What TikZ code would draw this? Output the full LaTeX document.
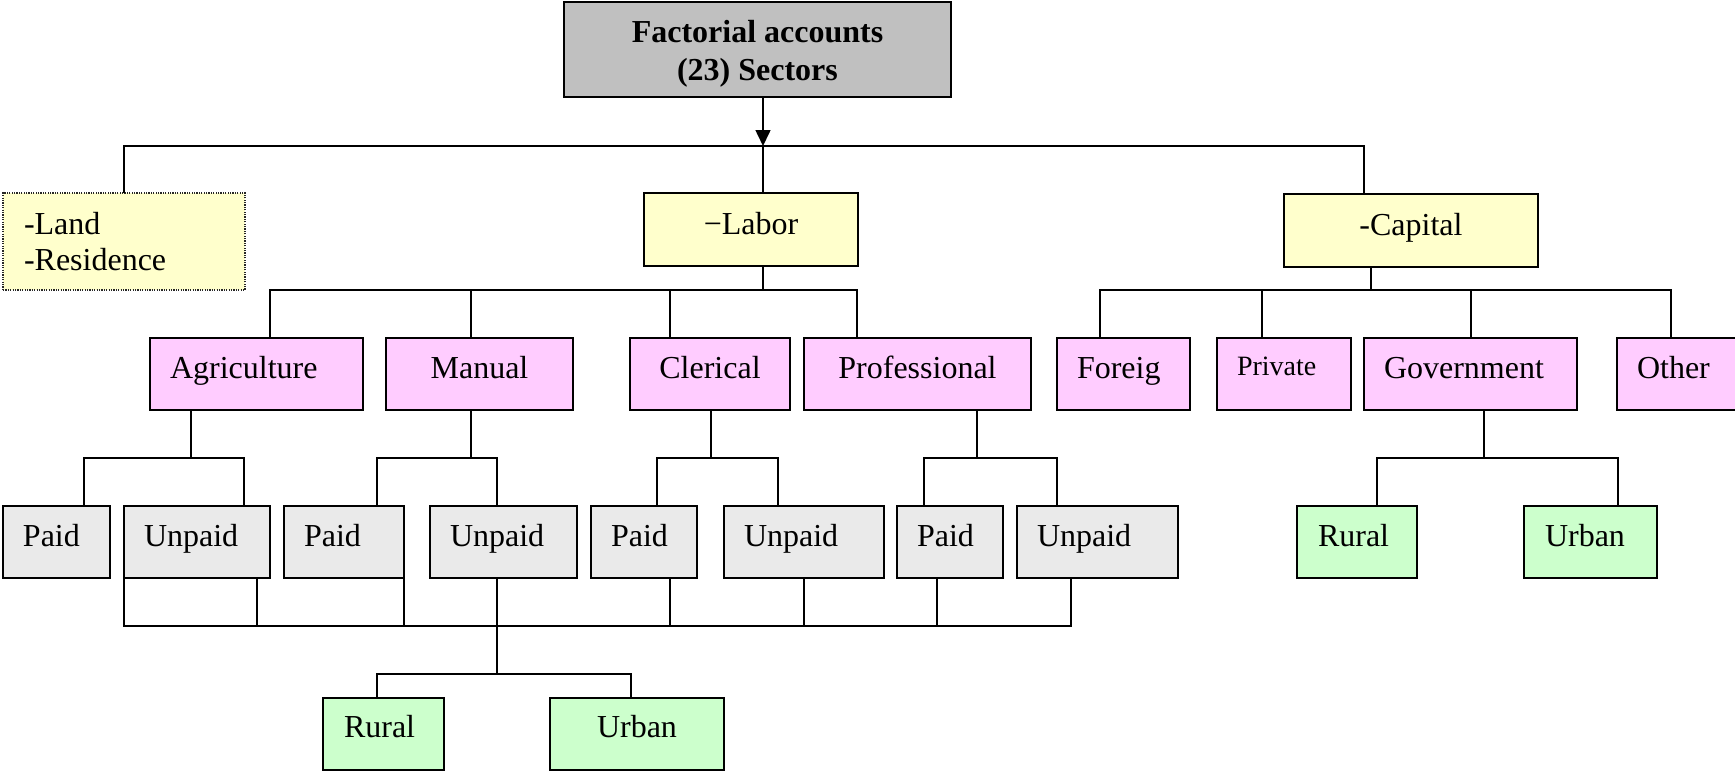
\documentclass[tikz,border=0pt]{standalone}
\usepackage{fontspec}
\setmainfont{Liberation Serif}
\usetikzlibrary{arrows.meta}
\definecolor{topgray}{HTML}{C0C0C0}
\definecolor{yel}{HTML}{FFFFCC}
\definecolor{pinkc}{HTML}{FFCCFF}
\definecolor{lgray}{HTML}{EAEAEA}
\definecolor{grn}{HTML}{CCFFCC}
\begin{document}
\begin{tikzpicture}[x=1pt,y=-1pt,
  every node/.style={font=\fontsize{32}{38}\selectfont},
  basebox/.style={draw=black, line width=2pt, inner sep=0pt, outer sep=0pt},
  box/.style={basebox, minimum height=72pt, text height=22pt, text depth=13pt},
  pbox/.style={box, fill=pinkc},
  gbox/.style={box, fill=lgray},
  grbox/.style={box, fill=grn},
  ybox/.style={box, fill=yel, minimum height=73pt},
  lt/.style={text width=#1, align=left},
  conn/.style={line width=1.6pt}
]
\clip (0,0) rectangle (1735,771);
% level 0
\node[basebox, fill=topgray, minimum width=387pt, minimum height=95pt, align=center,
  font=\fontsize{32}{38}\selectfont\bfseries] (top) at (757.5,49.5)
  {Factorial accounts\rule{0pt}{30pt}\\(23) Sectors};
% level 1
\node[basebox, fill=yel, draw=black!85, line width=1.5pt, dash pattern=on 1.2pt off 1.2pt,
  minimum width=242pt, minimum height=97pt, lt=200pt,
  font=\fontsize{32}{36}\selectfont] (land) at (124,241.5) {-Land\\-Residence};
\node[ybox, minimum width=214pt] (labor) at (751,229.5) {−Labor};
\node[ybox, minimum width=254pt] (cap) at (1411,230.5) {-Capital};
% level 2
\node[pbox, minimum width=213pt, lt=173pt] (agri) at (256.5,374) {Agriculture};
\node[pbox, minimum width=187pt] (man) at (479.5,374) {Manual};
\node[pbox, minimum width=160pt] (cler) at (710,374) {Clerical};
\node[pbox, minimum width=227pt] (prof) at (917.5,374) {Professional};
\node[pbox, minimum width=133pt, lt=93pt] (for) at (1123.5,374) {Foreig};
\node[pbox, minimum width=134pt, lt=94pt, text depth=20pt, font=\fontsize{28}{34}\selectfont] (priv) at (1284,374) {Private};
\node[pbox, minimum width=213pt, lt=173pt] (gov) at (1470.5,374) {Government};
\node[pbox, minimum width=143pt, lt=103pt] (oth) at (1688.5,374) {Other};
% level 3
\node[gbox, minimum width=107pt, lt=67pt] (paid1) at (56.5,542) {Paid};
\node[gbox, minimum width=146pt, lt=106pt] (unp1) at (197,542) {Unpaid};
\node[gbox, minimum width=120pt, lt=80pt] (paid2) at (344,542) {Paid};
\node[gbox, minimum width=147pt, lt=107pt] (unp2) at (503.5,542) {Unpaid};
\node[gbox, minimum width=106pt, lt=66pt] (paid3) at (644,542) {Paid};
\node[gbox, minimum width=160pt, lt=120pt] (unp3) at (804,542) {Unpaid};
\node[gbox, minimum width=106pt, lt=66pt] (paid4) at (950,542) {Paid};
\node[gbox, minimum width=161pt, lt=121pt] (unp4) at (1097.5,542) {Unpaid};
\node[grbox, minimum width=120pt, lt=78pt] (rur1) at (1357,542) {Rural};
\node[grbox, minimum width=133pt, lt=91pt] (urb1) at (1590.5,542) {Urban};
% level 4
\node[grbox, minimum width=121pt, lt=79pt, text depth=15pt] (rur2) at (383.5,734) {Rural};
\node[grbox, minimum width=174pt, text depth=15pt] (urb2) at (637,734) {Urban};

% connectors level 0 -> 1
\coordinate (h1) at (763,146);
\draw[conn,-{Triangle[length=16pt,width=15pt]}] ([xshift=5.5]top.south) -- (h1);
\draw[conn] (land.north) |- (h1);
\draw[conn] (h1) -| ([xshift=-47]cap.north);
\draw[conn] (h1) -- ([xshift=12]labor.north);

% labor bus
\coordinate (lb) at (763,290);
\draw[conn] ([xshift=12]labor.south) -- (lb);
\coordinate (agriT) at ([xshift=13.5]agri.north);
\coordinate (manT) at ([xshift=-8.5]man.north);
\coordinate (clerT) at ([xshift=-40]cler.north);
\coordinate (profT) at ([xshift=-60.5]prof.north);
\draw[conn] (agriT) |- (lb) -| (profT);
\draw[conn] (manT) -- (manT |- lb);
\draw[conn] (clerT) -- (clerT |- lb);

% capital bus
\coordinate (cb) at (1371,290);
\draw[conn] ([xshift=-40]cap.south) -- (cb);
\coordinate (forT) at ([xshift=-23.5]for.north);
\coordinate (privT) at ([xshift=-22]priv.north);
\coordinate (govT) at ([xshift=0.5]gov.north);
\coordinate (othT) at ([xshift=-17.5]oth.north);
\draw[conn] (forT) |- (cb) -| (othT);
\draw[conn] (privT) -- (privT |- cb);
\draw[conn] (govT) -- (govT |- cb);

% level 2 -> 3
\draw[conn] ([xshift=-65.5]agri.south) -- ++(0,48) coordinate (aj);
\draw[conn] ([xshift=27.5]paid1.north) |- (aj) -| ([xshift=47]unp1.north);
\draw[conn] ([xshift=-8.5]man.south) -- ++(0,48) coordinate (mj);
\draw[conn] ([xshift=33]paid2.north) |- (mj) -| ([xshift=-6.5]unp2.north);
\draw[conn] ([xshift=1]cler.south) -- ++(0,48) coordinate (cj);
\draw[conn] ([xshift=13]paid3.north) |- (cj) -| ([xshift=-26]unp3.north);
\draw[conn] ([xshift=59.5]prof.south) -- ++(0,48) coordinate (pj);
\draw[conn] ([xshift=-26]paid4.north) |- (pj) -| ([xshift=-40.5]unp4.north);
\draw[conn] ([xshift=13.5]gov.south) -- ++(0,48) coordinate (gj);
\draw[conn] ([xshift=20]rur1.north) |- (gj) -| ([xshift=27.5]urb1.north);

% bottom bus
\draw[conn] ([xshift=-6.5]unp2.south) -- ++(0,48) coordinate (bb) -- ++(0,48) coordinate (rb);
\draw[conn] (unp1.south west) |- (bb) -| ([xshift=-26.5]unp4.south);
\draw[conn] ([xshift=60]unp1.south) coordinate (u1b) -- (u1b |- bb);
\draw[conn] (paid2.south east) -- (paid2.south east |- bb);
\draw[conn] ([xshift=26]paid3.south) coordinate (p3b) -- (p3b |- bb);
\draw[conn] (unp3.south) -- (unp3.south |- bb);
\draw[conn] ([xshift=-13]paid4.south) coordinate (p4b) -- (p4b |- bb);
\draw[conn] ([xshift=-6.5]rur2.north) |- (rb) -| ([xshift=-6]urb2.north);
\end{tikzpicture}
\end{document}
